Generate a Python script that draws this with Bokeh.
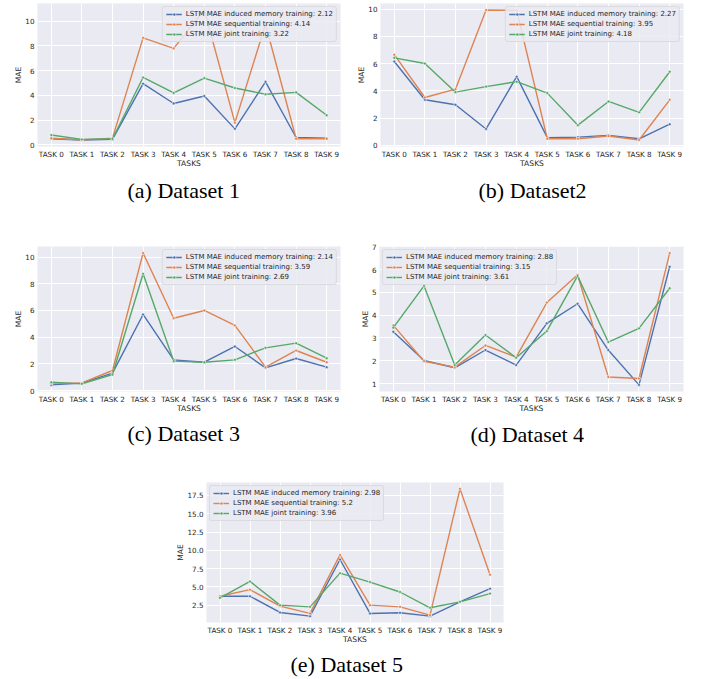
from bokeh.plotting import figure
from bokeh.models import (Range1d, FixedTicker, SingleIntervalTicker, Legend, LegendItem,
                          NumeralTickFormatter, Title, Spacer)
from bokeh.layouts import column, row
from bokeh.embed import file_html
from bokeh.resources import INLINE

tasks = ["TASK 0", "TASK 1", "TASK 2", "TASK 3", "TASK 4",
         "TASK 5", "TASK 6", "TASK 7", "TASK 8", "TASK 9"]

# Dataset 1
d1_induced = [0.5, 0.4, 0.45, 4.95, 3.35, 3.95, 1.3, 5.1, 0.6, 0.55]
d1_sequential = [0.55, 0.4, 0.55, 8.65, 7.8, 10.9, 1.8, 9.75, 0.5, 0.5]
d1_joint = [0.8, 0.45, 0.5, 5.45, 4.2, 5.4, 4.6, 4.1, 4.25, 2.4]
d1_means = ["2.12", "4.14", "3.22"]

# Dataset 2
d2_induced = [6.15, 3.34, 2.98, 1.2, 5.04, 0.56, 0.6, 0.73, 0.48, 1.55]
d2_sequential = [6.65, 3.51, 4.12, 9.93, 9.9, 0.48, 0.48, 0.68, 0.39, 3.34]
d2_joint = [6.42, 6.0, 3.9, 4.31, 4.67, 3.83, 1.48, 3.22, 2.42, 5.4]
d2_means = ["2.27", "3.95", "4.18"]

# Dataset 3
d3_induced = [0.42, 0.55, 1.3, 5.7, 2.3, 2.12, 3.3, 1.7, 2.4, 1.75]
d3_sequential = [0.55, 0.57, 1.5, 10.3, 5.42, 6.0, 4.88, 1.75, 3.0, 2.12]
d3_joint = [0.62, 0.5, 1.2, 8.75, 2.2, 2.12, 2.3, 3.2, 3.55, 2.42]
d3_means = ["2.14", "3.59", "2.69"]

# Dataset 4
d4_induced = [3.27, 2.01, 1.69, 2.47, 1.81, 3.64, 4.5, 2.47, 0.94, 6.12]
d4_sequential = [3.55, 1.98, 1.72, 2.67, 2.16, 4.55, 5.77, 1.29, 1.22, 6.72]
d4_joint = [3.45, 5.28, 1.81, 3.13, 2.13, 3.3, 5.72, 2.82, 3.42, 5.18]
d4_means = ["2.88", "3.15", "3.61"]

# Dataset 5
d5_induced = [3.72, 3.72, 1.5, 1.0, 8.74, 1.37, 1.46, 1.0, 2.95, 4.76]
d5_sequential = [3.72, 4.62, 2.36, 1.37, 9.37, 2.5, 2.27, 1.14, 18.4, 6.66]
d5_joint = [3.5, 5.75, 2.5, 2.27, 6.88, 5.66, 4.3, 2.14, 2.95, 4.08]
d5_means = ["2.98", "5.2", "3.96"]

captions = ["(a) Dataset 1", "(b) Dataset2", "(c) Dataset 3", "(d) Dataset 4", "(e) Dataset 5"]
series_names = ["LSTM MAE induced memory training", "LSTM MAE sequential training",
                "LSTM MAE joint training"]

COLORS = ["#4C72B0", "#DD8452", "#55A868"]
BG = "#EAEAF2"
TXT = "#262626"
FONT = "DejaVu Sans"


def panel(series, means, caption, legend_loc, interval, fmt,
          width, height, mb_left, mb_right, mb_top, mb_bottom, cap_standoff, cap_left):
    allv = [v for s in series for v in s]
    lo, hi = min(allv), max(allv)
    span = hi - lo
    p = figure(width=width, height=height, output_backend="svg", toolbar_location=None,
               x_range=Range1d(-0.45, len(tasks) - 0.55),
               y_range=Range1d(lo - 0.05 * span, hi + 0.05 * span),
               min_border_left=mb_left, min_border_right=mb_right,
               min_border_top=mb_top, min_border_bottom=mb_bottom)
    p.background_fill_color = BG
    p.border_fill_color = "white"
    p.outline_line_color = None

    xs = list(range(len(tasks)))
    items = []
    for s, name, m, c in zip(series, series_names, means, COLORS):
        ln = p.line(xs, s, line_color=c, line_width=1.4)
        sc = p.scatter(xs, s, size=3, fill_color=c, line_color="white", line_width=0.6)
        items.append(LegendItem(label=f"{name}: {m}", renderers=[ln, sc]))

    p.xaxis.ticker = FixedTicker(ticks=xs)
    p.xaxis.major_label_overrides = {i: t for i, t in enumerate(tasks)}
    p.yaxis.ticker = SingleIntervalTicker(interval=interval)
    p.yaxis.formatter = NumeralTickFormatter(format=fmt)
    p.xaxis.axis_label = "TASKS"
    p.yaxis.axis_label = "MAE"
    for ax in (p.xaxis[0], p.yaxis[0]):
        ax.axis_line_color = None
        ax.major_tick_line_color = None
        ax.minor_tick_line_color = None
        ax.major_label_text_font = FONT
        ax.major_label_text_font_size = "7.2px"
        ax.major_label_text_color = TXT
        ax.axis_label_text_font = FONT
        ax.axis_label_text_font_size = "7.6px"
        ax.axis_label_text_font_style = "normal"
        ax.axis_label_text_color = TXT
    p.xaxis.major_label_standoff = -3
    p.xaxis.axis_label_standoff = -3
    p.yaxis.major_label_standoff = -3
    p.yaxis.axis_label_standoff = -1
    p.xgrid.grid_line_color = "white"
    p.ygrid.grid_line_color = "white"
    p.xgrid.grid_line_width = 1
    p.ygrid.grid_line_width = 1

    leg = Legend(items=items, location=legend_loc)
    leg.label_text_font = FONT
    leg.label_text_font_size = "7px"
    leg.label_text_color = TXT
    leg.background_fill_color = BG
    leg.background_fill_alpha = 0.85
    leg.border_line_color = "#CCCCCC"
    leg.border_line_width = 1
    leg.border_radius = 3
    leg.padding = 3
    leg.margin = 3
    leg.spacing = 2
    leg.label_height = 8
    leg.glyph_height = 8
    leg.glyph_width = 16
    leg.label_standoff = 4
    p.add_layout(leg)

    t = Title(text=caption, align="left", text_font="Liberation Serif",
              text_font_size="22px", text_font_style="normal", text_color="black",
              standoff=cap_standoff, offset=cap_left)
    p.add_layout(t, "below")
    return p


fa = panel([d1_induced, d1_sequential, d1_joint], d1_means, captions[0], "top_right", 2, "0",
           350, 210, 37, 10, 3, 63, 11, 90)
fb = panel([d2_induced, d2_sequential, d2_joint], d2_means, captions[1], "top_right", 2, "0",
           350, 210, 30, 17, 2, 64, 11, 98)
fc = panel([d3_induced, d3_sequential, d3_joint], d3_means, captions[2], "top_right", 2, "0",
           350, 242, 37, 10, 36, 60, 7, 90)
fd = panel([d4_induced, d4_sequential, d4_joint], d4_means, captions[3], "top_left", 1, "0",
           350, 242, 29, 17, 35, 61, 8, 91)
fe = panel([d5_induced, d5_sequential, d5_joint], d5_means, captions[4], "top_left", 2.5, "0.0",
           343, 227, 36, 10, 30, 57, 6, 84)

layout = column(row(fa, fb), row(fc, fd), row(Spacer(width=170, height=227), fe))
open("out.html", "w").write(file_html(layout, INLINE))
